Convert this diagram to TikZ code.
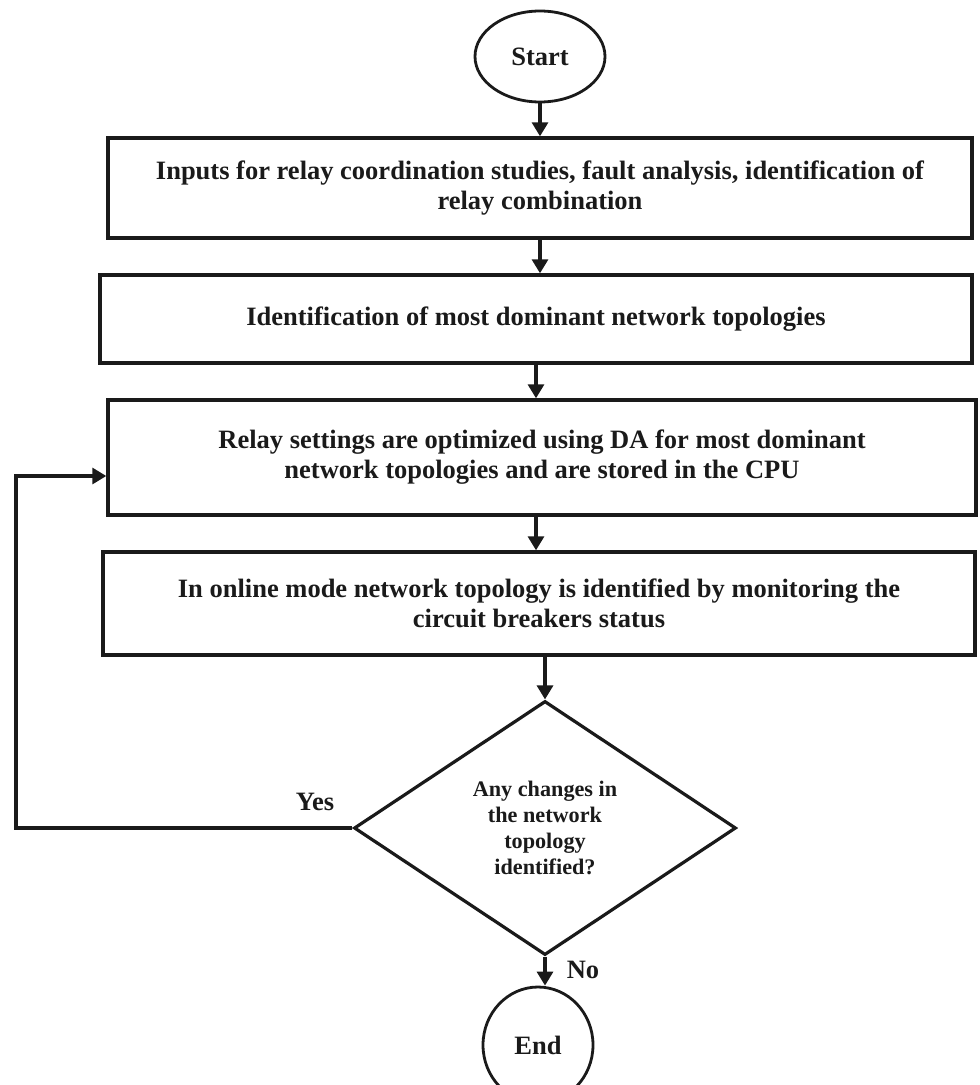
\documentclass[tikz,border=0pt]{standalone}
\usepackage{fontspec}
\setmainfont{Liberation Serif}
\usetikzlibrary{shapes.geometric,arrows.meta}
\definecolor{flowink}{HTML}{1A1A1A}
\newcommand{\boxfont}{\fontsize{13.25}{15}\selectfont\bfseries}
\newcommand{\decfont}{\fontsize{11.1}{13}\selectfont\bfseries}

\begin{document}
\begin{tikzpicture}[x=0.5pt, y=-0.5pt, every node/.style={text=flowink},
  procbox/.style={draw=flowink, line width=1.7pt, rectangle, align=center, inner sep=0pt, font=\boxfont},
  termnode/.style={draw=flowink, line width=1.4pt, ellipse, inner sep=0pt, font=\boxfont},
  decnode/.style={draw=flowink, line width=1.6pt, diamond, align=center, inner sep=0pt, font=\decfont},
  flowarrow/.style={draw=flowink, line width=1.6pt, -{Triangle[length=7pt,width=8pt]}}]

  \useasboundingbox (0,0) rectangle (979,1085);

  % terminals and process steps
  \node[termnode, minimum width=65pt, minimum height=45.5pt] (start) at (540,56.5) {Start};
  \node[procbox, minimum width=432pt, minimum height=50pt] (inputs) at (540,188)
    {Inputs for relay coordination studies, fault analysis, identification of\\ relay combination};
  \node[procbox, minimum width=436pt, minimum height=44pt] (topo) at (536,319)
    {Identification of most dominant network topologies};
  \node[procbox, minimum width=434pt, minimum height=57.5pt] (optim) at (542,457.5)
    {Relay settings are optimized using DA for most dominant\\ network topologies and are stored in the CPU};
  \node[procbox, minimum width=436pt, minimum height=51.5pt] (online) at (539,603.5)
    {In online mode network topology is identified by monitoring the\\ circuit breakers status};

  % decision
  \node[decnode, minimum width=191pt, minimum height=127pt] (dec) at (545,828)
    {Any changes in\\ the network\\ topology\\ identified?};
  \node[termnode, minimum width=55pt, minimum height=58pt] (end) at (538,1045) {End};

  \coordinate (back) at (16,476);

  % main flow
  \draw[flowarrow] (start.south) -- (start.south |- inputs.north);
  \draw[flowarrow] (inputs.south) -- (inputs.south |- topo.north);
  \draw[flowarrow] (topo.south) -- (topo.south |- optim.north);
  \draw[flowarrow] (optim.south -| topo.south) -- (topo.south |- online.north);
  \draw[flowarrow] (online.south -| dec.north) -- (dec.north);
  \draw[flowarrow] (dec.south) -- (dec.south |- end.north);

  % loop back on a change
  \draw[flowarrow] (dec.west) -| (back) -- (back -| optim.west);

  \node[font=\boxfont] (yes) at (315,802) {Yes};
  \node[font=\boxfont] (no) at (583,970) {No};

\end{tikzpicture}
\end{document}
